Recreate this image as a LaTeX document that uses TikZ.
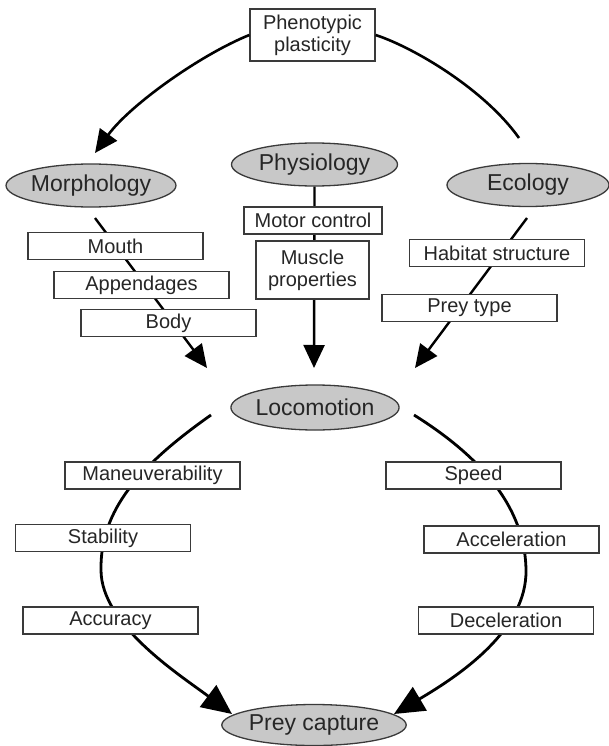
\documentclass[tikz,border=0pt]{standalone}
\usepackage{fontspec}
\setmainfont{Liberation Sans}
\usetikzlibrary{shapes.geometric,arrows.meta}
\definecolor{ellfill}{HTML}{C8C8C8}
\definecolor{edge}{HTML}{3A3A3A}
\definecolor{txt}{HTML}{262626}
\tikzset{
  lbox/.style={draw=edge, line width=1.3pt, fill=white, text=txt, inner sep=0pt,
    minimum width=175pt, minimum height=27pt, font=\fontsize{20}{22}\selectfont, align=center},
  lell/.style={ellipse, draw=edge, line width=1.3pt, fill=ellfill, text=txt, inner sep=0pt,
    minimum width=166pt, minimum height=43pt, font=\fontsize{23}{25}\selectfont},
  conn/.style={line width=2.8pt, black},
  bigtip/.style={-{Triangle[length=30pt,width=27pt]}},
  midtip/.style={-{Triangle[length=23pt,width=21pt]}}
}
\begin{document}
\begin{tikzpicture}[x=1pt,y=-1pt]
\useasboundingbox (0,0) rectangle (608,746);

% ellipses
\node[lell] (morph) at (91,185.5) {Morphology};
\node[lell] (phys) at (314.5,164.5) {Physiology};
\node[lell, minimum width=162pt] (eco) at (528,185) {Ecology};
\node[lell, minimum height=45pt] (loco) at (315,407.5) {Locomotion};
\node[lell, minimum height=41pt] (prey) at (314,725) {Prey capture};

% named free ends
\coordinate (morphA) at (95,218);
\coordinate (morphT) at (207,368);
\coordinate (ecoA) at (527,218);
\coordinate (ecoT) at (415,368);
\coordinate (physT) at (314,368);
\coordinate (topL) at (95,153);
\coordinate (topR) at (519,138);
\coordinate (locL) at (211,415);
\coordinate (locR) at (414,415);
\coordinate (preyL) at (232,714);
\coordinate (preyR) at (394,714);
\coordinate (midL) at (101,570);
\coordinate (midR) at (526,570);

% middle connectors (drawn behind the boxes)
\draw[conn, line width=2.4pt, midtip] (morphA) -- (morphT);
\draw[conn, line width=2.4pt, midtip] (ecoA) -- (ecoT);
\draw[conn, line width=2.4pt, midtip] (phys.south) -- (physT);

% lower arcs
\draw[conn, bigtip] (locL) .. controls (140,465) and (100,510) .. (midL)
   .. controls (101,625) and (180,675) .. (preyL);
\draw[conn, bigtip] (locR) .. controls (470,450) and (525,500) .. (midR)
   .. controls (527,630) and (460,675) .. (preyR);

% top box and arcs
\node[lbox, minimum width=125pt, minimum height=52pt] (pp) at (312.5,35) {Phenotypic\\plasticity};
\draw[conn, line width=2.6pt, midtip] (pp.west) .. controls (200,55) and (130,105) .. (topL);
\draw[conn, line width=2.6pt] (pp.east) .. controls (415,48) and (485,90) .. (topR);

% boxes
\node[lbox, minimum width=138pt] (motor) at (313,220.5) {Motor control};
\node[lbox, minimum width=113pt, minimum height=58pt] (muscle) at (312.5,270) {Muscle\\properties};
\node[lbox] (mouth) at (115.5,246) {Mouth};
\node[lbox] (append) at (141.5,285) {Appendages};
\node[lbox] (body) at (168.5,323) {Body};
\node[lbox] (habitat) at (497,253) {Habitat structure};
\node[lbox] (preytype) at (469.5,308) {Prey type};
\node[lbox] (maneuv) at (152.5,475.5) {Maneuverability};
\node[lbox] (stab) at (103,538) {Stability};
\node[lbox] (accur) at (110.5,620.5) {Accuracy};
\node[lbox] (speed) at (473.5,475.5) {Speed};
\node[lbox] (accel) at (511.5,539.5) {Acceleration};
\node[lbox] (decel) at (506,620.5) {Deceleration};
\end{tikzpicture}
\end{document}
